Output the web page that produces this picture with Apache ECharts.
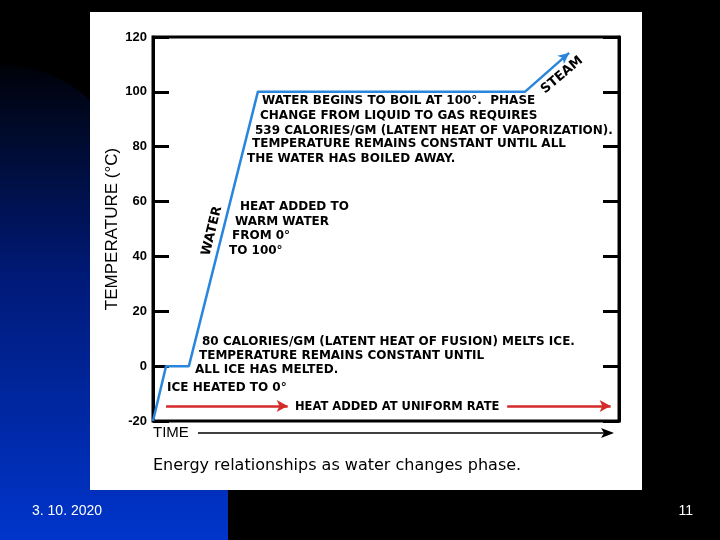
<!DOCTYPE html>
<html>
<head>
<meta charset="utf-8">
<script src="https://cdn.jsdelivr.net/npm/echarts@6/dist/echarts.min.js"></script>
<style>html,body{margin:0;padding:0;background:#000;}#c{width:720px;height:540px;}</style>
</head>
<body>
<div id="c"></div>
<script>
// Heating curve of water: time (arbitrary units) vs temperature (°C)
var timeValues = [0, 2.8, 7.7, 22.5, 79.8, 89.3];
var tempValues = [-20, 0, 0, 100, 100, 114.2];
var yTicks = [-20, 0, 20, 40, 60, 80, 100, 120];
// Red "heat added" arrows: [startTime, endTime] at temperature level
var heatArrowLevel = -14.5;
var heatArrows = [[2.8, 28.9], [76.0, 98.2]];

var FONT = '"Liberation Sans", Arial, sans-serif';
var DFONT = '"DejaVu Sans", sans-serif';
var BFONT = 'bold 12px ' + DFONT;

var chart = echarts.init(document.getElementById('c'));

var lineData = timeValues.map(function (t, i) {
  var item = { value: [t, tempValues[i]] };
  if (i === timeValues.length - 1) {
    item.symbol = 'arrow';
    item.symbolSize = [8, 11];
    item.symbolRotate = -51;
  }
  return item;
});

function txt(x, y, s, font, extra) {
  var o = {
    type: 'text', x: x, y: y, z: 50,
    style: { text: s, font: font || BFONT, fill: '#000', verticalAlign: 'middle', align: 'left' }
  };
  if (extra) { for (var k in extra) o[k] = extra[k]; }
  return o;
}

var grad = {
  type: 'linear', x: 0, y: 65, x2: 0, y2: 540, global: true,
  colorStops: [{ offset: 0, color: '#000208' }, { offset: 0.45, color: '#001a78' }, { offset: 1, color: '#0035cc' }]
};

var graphics = [
  { type: 'rect', z: -20, shape: { x: 0, y: 65, width: 133, height: 475, r: [0, 133, 0, 0] }, style: { fill: grad } },
  { type: 'rect', z: -20, shape: { x: 0, y: 300, width: 228, height: 240 }, style: { fill: grad } },
  { type: 'rect', z: -10, shape: { x: 90, y: 12, width: 552, height: 478 }, style: { fill: '#fff' } },
  { type: 'text', x: 32, y: 511, z: 50, style: { text: '3. 10. 2020', font: '14px ' + FONT, fill: '#fff', verticalAlign: 'middle' } },
  { type: 'text', x: 693, y: 511, z: 50, style: { text: '11', font: '14px ' + FONT, fill: '#fff', verticalAlign: 'middle', align: 'right' } },
  // annotations
  txt(262, 101, 'WATER BEGINS TO BOIL AT 100°.  PHASE'),
  txt(260, 116, 'CHANGE FROM LIQUID TO GAS REQUIRES'),
  txt(255, 131, '539 CALORIES/GM (LATENT HEAT OF VAPORIZATION).'),
  txt(252, 144, 'TEMPERATURE REMAINS CONSTANT UNTIL ALL'),
  txt(247, 159, 'THE WATER HAS BOILED AWAY.'),
  txt(240, 207, 'HEAT ADDED TO'),
  txt(235, 222, 'WARM WATER'),
  txt(232, 236, 'FROM 0°'),
  txt(229, 251, 'TO 100°'),
  txt(202, 342, '80 CALORIES/GM (LATENT HEAT OF FUSION) MELTS ICE.'),
  txt(199, 356, 'TEMPERATURE REMAINS CONSTANT UNTIL'),
  txt(195, 370, 'ALL ICE HAS MELTED.'),
  txt(167, 388, 'ICE HEATED TO 0°'),
  txt(295, 407, 'HEAT ADDED AT UNIFORM RATE', 'bold 11.5px ' + DFONT),
  txt(212, 231, 'WATER', null, { rotation: 76 * Math.PI / 180, style: { text: 'WATER', font: 'bold 13px ' + DFONT, fill: '#000', align: 'center', verticalAlign: 'middle' } }),
  txt(562, 75, 'STEAM', null, { rotation: 40 * Math.PI / 180, style: { text: 'STEAM', font: 'bold 13px ' + DFONT, fill: '#000', align: 'center', verticalAlign: 'middle' } }),
  // time axis label + arrow
  txt(153, 433, 'TIME', '15px ' + FONT),
  { type: 'line', z: 50, shape: { x1: 198, y1: 433, x2: 612, y2: 433 }, style: { stroke: '#000', lineWidth: 1.5 } },
  { type: 'polygon', z: 50, shape: { points: [[614, 433], [601, 428], [604, 433], [601, 438]] }, style: { fill: '#000' } },
  // caption
  txt(153, 466, 'Energy relationships as water changes phase.', '16px ' + DFONT)
];

var option = {
  backgroundColor: '#000',
  animation: false,
  graphic: graphics,
  grid: { left: 153, right: 101, top: 37, bottom: 119, show: true, borderColor: '#000', borderWidth: 3, backgroundColor: 'transparent' },
  xAxis: {
    type: 'value', min: 0, max: 100,
    axisLine: { show: false }, axisTick: { show: false }, axisLabel: { show: false }, splitLine: { show: false }
  },
  yAxis: [{
    type: 'value', min: -20, max: 120, interval: 20, position: 'left',
    name: 'TEMPERATURE (°C)', nameLocation: 'middle', nameGap: 32, nameMoveOverlap: false,
    nameTextStyle: { fontFamily: FONT, fontSize: 17, color: '#000' },
    axisLine: { show: true, lineStyle: { color: '#000', width: 3 } },
    axisTick: { show: true, inside: true, length: 16, lineStyle: { color: '#000', width: 3 } },
    axisLabel: { margin: 6, color: '#000', fontFamily: FONT, fontWeight: 'bold', fontSize: 13,
      formatter: function (v) { return yTicks.indexOf(v) >= 0 ? String(v) : ''; } },
    splitLine: { show: false }
  }, {
    type: 'value', min: -20, max: 120, interval: 20, position: 'right',
    axisLine: { show: true, lineStyle: { color: '#000', width: 3 } },
    axisTick: { show: true, inside: true, length: 16, lineStyle: { color: '#000', width: 3 } },
    axisLabel: { show: false }, splitLine: { show: false }
  }],
  series: [{
    type: 'line',
    data: lineData,
    symbol: 'none',
    showSymbol: true,
    itemStyle: { color: '#2a86dc' },
    lineStyle: { color: '#2a86dc', width: 2.5 },
    z: 5,
    markLine: {
      silent: true,
      symbol: ['none', 'arrow'],
      symbolSize: [9, 11],
      label: { show: false },
      lineStyle: { color: '#d42a2a', width: 2.5, type: 'solid' },
      data: heatArrows.map(function (a) {
        return [{ coord: [a[0], heatArrowLevel] }, { coord: [a[1], heatArrowLevel] }];
      })
    }
  }]
};
chart.setOption(option);
</script>
</body>
</html>
